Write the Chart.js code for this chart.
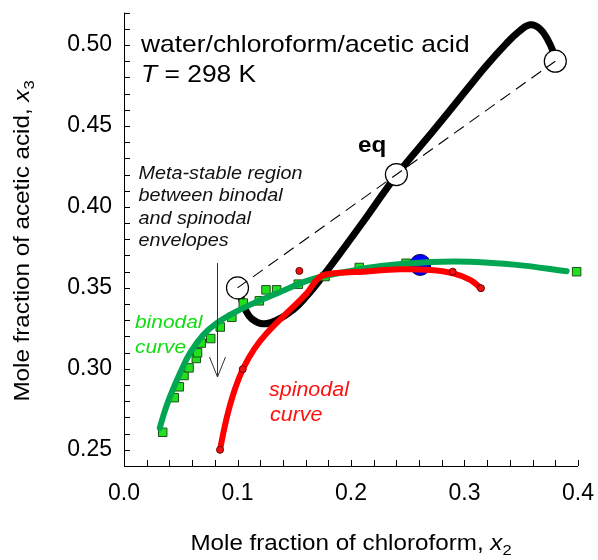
<!DOCTYPE html>
<html>
<head>
<meta charset="utf-8">
<script src="https://cdn.jsdelivr.net/npm/chart.js@4/dist/chart.umd.min.js"></script>
<style>
  html, body { margin: 0; padding: 0; background: #fff; }
  #wrap { width: 598px; height: 560px; }
</style>
</head>
<body>
<div id="wrap"><canvas id="c" width="598" height="560"></canvas></div>
<script>
const FONT = "'Liberation Sans', Arial, Helvetica, sans-serif";

// Axis tick labels
const xTicks = [0.0, 0.1, 0.2, 0.3, 0.4];
const yTicks = [0.25, 0.30, 0.35, 0.40, 0.45, 0.50];

// Experimental binodal compositions (squares)
const binodalX = [0.0341, 0.0443, 0.0487, 0.0529, 0.0573, 0.0637, 0.0648, 0.0680, 0.0764, 0.0848,
                  0.0950, 0.1051, 0.1192, 0.1251, 0.1345, 0.1536, 0.1771, 0.2073, 0.2485, 0.3988];
const binodalY = [0.2608, 0.2822, 0.2889, 0.2959, 0.3006, 0.3064, 0.3099, 0.3159, 0.3187, 0.3258,
                  0.3318, 0.3406, 0.3420, 0.3488, 0.3488, 0.3523, 0.3570, 0.3626, 0.3652, 0.3600];

// Binodal curve
const binCurveX = [0.0315, 0.0360, 0.0405, 0.0493, 0.0581, 0.0699, 0.0817, 0.0963, 0.1110, 0.1345,
                   0.1640, 0.2000, 0.2285, 0.2700, 0.3050, 0.3460, 0.3900];
const binCurveY = [0.2635, 0.2740, 0.2829, 0.2973, 0.3097, 0.3210, 0.3282, 0.3344, 0.3395, 0.3465,
                   0.3550, 0.3605, 0.3636, 0.3660, 0.3662, 0.3642, 0.3603];

// Spinodal curve
const spinCurveX = [0.0846, 0.0880, 0.0920, 0.0980, 0.1051, 0.1150, 0.1257, 0.1433, 0.1610, 0.1712,
                    0.1800, 0.1950, 0.2108, 0.2430, 0.2700, 0.2900, 0.3050, 0.3145];
const spinCurveY = [0.2500, 0.2620, 0.2740, 0.2880, 0.3004, 0.3125, 0.3220, 0.3344, 0.3467, 0.3560,
                    0.3585, 0.3595, 0.3600, 0.3615, 0.3611, 0.3590, 0.3550, 0.3498];

// Spinodal points
const spinPtsX = [0.0846, 0.1046, 0.1545, 0.2896, 0.3145];
const spinPtsY = [0.2500, 0.2998, 0.3605, 0.3600, 0.3498];

// Tie line: two coexisting phases and the overall composition (eq)
const tieX = [0.100, 0.240, 0.380];
const tieY = [0.350, 0.420, 0.490];

// Composition path of the system
const pathX = [0.1000, 0.1035, 0.1070, 0.1125, 0.1227, 0.1345, 0.1490, 0.1610, 0.1727, 0.1900,
               0.2150, 0.2405, 0.2725, 0.3020, 0.3196, 0.3370, 0.3475, 0.3577, 0.3665, 0.3735,
               0.3780, 0.3800];
const pathY = [0.3500, 0.3430, 0.3365, 0.3310, 0.3278, 0.3300, 0.3364, 0.3450, 0.3550, 0.3710,
               0.3950, 0.4200, 0.4470, 0.4725, 0.4875, 0.5010, 0.5080, 0.5125, 0.5100, 0.5030,
               0.4960, 0.4900];

// Plait (critical) point
const critX = [0.261];
const critY = [0.3642];

const pts = (xs, ys) => xs.map((x, i) => ({ x: x, y: ys[i] }));

const SX = 1.1; // horizontal text stretch

function richText(ctx, parts, x, y, opt) {
  opt = opt || {};
  ctx.save();
  ctx.translate(x, y);
  if (opt.rot) ctx.rotate(opt.rot);
  ctx.scale(SX, 1);
  ctx.textBaseline = 'alphabetic';
  ctx.textAlign = 'left';
  let total = 0;
  const widths = parts.map(p => {
    ctx.font = (p.style || 'normal') + ' ' + (p.weight || 'normal') + ' ' + p.size + 'px ' + FONT;
    const w = ctx.measureText(p.t).width;
    total += w;
    return w;
  });
  let cx = opt.align === 'center' ? -total / 2 : 0;
  parts.forEach((p, i) => {
    ctx.font = (p.style || 'normal') + ' ' + (p.weight || 'normal') + ' ' + p.size + 'px ' + FONT;
    ctx.fillStyle = p.color || '#000';
    ctx.fillText(p.t, cx, p.dy || 0);
    cx += widths[i];
  });
  ctx.restore();
}

const decorations = {
  id: 'decorations',
  afterDraw(chart) {
    const ctx = chart.ctx;
    const xs = chart.scales.x, ys = chart.scales.y;
    const L = xs.left, R = xs.right, T = ys.top, B = ys.bottom;

    // axes with inward tick marks
    ctx.save();
    ctx.strokeStyle = '#000';
    ctx.lineWidth = 1;
    ctx.beginPath();
    ctx.moveTo(L + 0.5, T); ctx.lineTo(L + 0.5, B + 0.5); ctx.lineTo(R, B + 0.5);
    for (let k = 0; k <= 28; k++) {
      const py = Math.round(ys.getPixelForValue(0.24 + k * 0.01)) + 0.5;
      ctx.moveTo(L, py); ctx.lineTo(L + 6, py);
    }
    for (let k = 0; k <= 20; k++) {
      const px = Math.round(xs.getPixelForValue(k * 0.02)) + 0.5;
      ctx.moveTo(px, B); ctx.lineTo(px, B - 6);
    }
    ctx.stroke();

    // arrow into the metastable region
    ctx.strokeStyle = '#333';
    ctx.beginPath();
    ctx.moveTo(217.5, 263); ctx.lineTo(217.5, 377);
    ctx.moveTo(209.5, 357); ctx.lineTo(217.5, 377); ctx.lineTo(225.5, 357);
    ctx.stroke();
    ctx.restore();

    // axis titles
    richText(ctx, [
      { t: 'Mole fraction of chloroform, ', size: 22 },
      { t: 'x', size: 22, style: 'italic' },
      { t: '2', size: 15, dy: 5 }
    ], 351, 550, { align: 'center' });
    richText(ctx, [
      { t: 'Mole fraction of acetic acid, ', size: 22 },
      { t: 'x', size: 22, style: 'italic' },
      { t: '3', size: 15, dy: 5 }
    ], 29, 241, { align: 'center', rot: -Math.PI / 2 });

    // system label
    richText(ctx, [{ t: 'water/chloroform/acetic acid', size: 24 }], 141, 52);
    richText(ctx, [
      { t: 'T', size: 24, style: 'italic' },
      { t: ' = 298 K', size: 24 }
    ], 141, 82);

    richText(ctx, [{ t: 'eq', size: 22, weight: 'bold' }], 358, 152);

    const meta = ['Meta-stable region', 'between binodal', 'and spinodal', 'envelopes'];
    meta.forEach((s, i) => richText(ctx, [{ t: s, size: 18, style: 'italic', color: '#111' }], 138.5, 178.5 + i * 22.6));

    richText(ctx, [{ t: 'binodal', size: 19, style: 'italic', color: '#11dd11' }], 135, 328);
    richText(ctx, [{ t: 'curve', size: 19, style: 'italic', color: '#11dd11' }], 135, 353);
    richText(ctx, [{ t: 'spinodal', size: 19.5, style: 'italic', color: '#ff1010' }], 269, 396);
    richText(ctx, [{ t: 'curve', size: 19.5, style: 'italic', color: '#ff1010' }], 270, 421);
  }
};

const noPad = s => { s.paddingTop = 0; s.paddingBottom = 0; s.paddingLeft = 0; s.paddingRight = 0; };

new Chart(document.getElementById('c'), {
  type: 'scatter',
  data: {
    datasets: [
      { // tie line
        data: pts([tieX[0], tieX[2]], [tieY[0], tieY[2]]),
        showLine: true, borderColor: '#000', borderWidth: 1.1, borderDash: [12, 7],
        pointRadius: 0, order: 0
      },
      { // tie-line end points and eq
        data: pts(tieX, tieY),
        pointRadius: 11, pointBackgroundColor: '#fff', pointBorderColor: '#000', pointBorderWidth: 1.2,
        order: 1
      },
      { // spinodal points
        data: pts(spinPtsX, spinPtsY),
        pointRadius: 3.5, pointBackgroundColor: '#ee1111', pointBorderColor: '#6a0000', pointBorderWidth: 1,
        order: 2
      },
      { // spinodal curve
        data: pts(spinCurveX, spinCurveY),
        showLine: true, tension: 0.4, borderColor: '#ff0000', borderWidth: 6, pointRadius: 0,
        borderCapStyle: 'round', order: 3
      },
      { // binodal curve
        data: pts(binCurveX, binCurveY),
        showLine: true, tension: 0.4, borderColor: '#00a651', borderWidth: 6, pointRadius: 0,
        borderCapStyle: 'round', order: 4
      },
      { // plait point
        data: pts(critX, critY),
        pointRadius: 10.5, pointBackgroundColor: '#0000ff', pointBorderColor: '#00004a', pointBorderWidth: 1,
        order: 5
      },
      { // binodal data
        data: pts(binodalX, binodalY),
        pointStyle: 'rect', pointRadius: 6, pointBackgroundColor: '#22e01e', pointBorderColor: '#1d4f1d',
        pointBorderWidth: 1, order: 6
      },
      { // composition path
        data: pts(pathX, pathY),
        showLine: true, tension: 0.4, borderColor: '#000', borderWidth: 7, pointRadius: 0,
        borderCapStyle: 'round', borderJoinStyle: 'round', order: 7
      }
    ]
  },
  options: {
    responsive: false,
    animation: false,
    devicePixelRatio: 1,
    layout: { padding: { left: 0, right: 20, top: 12.6, bottom: 0 } },
    plugins: { legend: { display: false }, tooltip: { enabled: false } },
    elements: { point: { hoverRadius: 0 } },
    datasets: { scatter: { clip: false } },
    scales: {
      x: {
        type: 'linear', min: 0, max: 0.4,
        afterBuildTicks: s => { s.ticks = xTicks.map(v => ({ value: v })); },
        afterFit: s => { s.height = 94; noPad(s); },
        ticks: { callback: v => v.toFixed(1), color: '#000', font: { family: FONT, size: 23 }, padding: 14, maxRotation: 0, autoSkip: false },
        grid: { display: false, drawTicks: false },
        border: { display: false }
      },
      y: {
        type: 'linear', min: 0.24, max: 0.52,
        afterBuildTicks: s => { s.ticks = yTicks.map(v => ({ value: v })); },
        afterFit: s => { s.width = 124; noPad(s); },
        ticks: { callback: v => v.toFixed(2), color: '#000', font: { family: FONT, size: 23 }, padding: 12, autoSkip: false },
        grid: { display: false, drawTicks: false },
        border: { display: false }
      }
    }
  },
  plugins: [decorations]
});
</script>
</body>
</html>
